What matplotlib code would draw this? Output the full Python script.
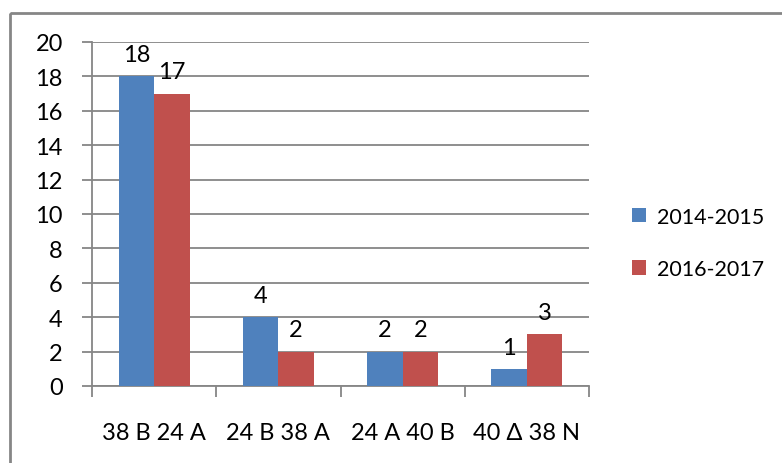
import numpy as np
import matplotlib.pyplot as plt
from matplotlib.patches import Rectangle

plt.rcParams['font.family'] = ['Lato', 'DejaVu Sans']

categories = ['38 Β 24 Α', '24 Β 38 Α', '24 Α 40 Β', '40 Δ 38 Ν']
series_names = ['2014-2015', '2016-2017']
values_1415 = [18, 4, 2, 1]
values_1617 = [17, 2, 2, 3]
colors = ['#4F81BD', '#C0504D']
grid_color = '#868686'
fs = 17

fig = plt.figure(figsize=(7.82, 4.64), dpi=100)

# chart frame
fig.patches.append(Rectangle((10 / 782, 1 - 14 / 464), 1.0, -1.0,
                             transform=fig.transFigure, fill=False,
                             edgecolor=grid_color, linewidth=2.0))

ax = fig.add_axes([92 / 782, 1 - 387 / 464, (589 - 92) / 782, (387 - 43) / 464])

x = np.arange(len(categories))
w = 0.286
for i, (vals, name) in enumerate(zip([values_1415, values_1617], series_names)):
    pos = x - w / 2 + i * w
    ax.bar(pos, vals, width=w, color=colors[i], label=name, zorder=3)
    for p, v in zip(pos, vals):
        ax.annotate(str(v), (p, v), xytext=(0, 8), textcoords='offset points',
                    ha='center', va='bottom', fontsize=fs)

ax.set_xlim(-0.5, len(categories) - 0.5)
ax.set_ylim(0, 20)
ax.set_yticks(range(0, 21, 2))
ax.set_xticks(np.arange(len(categories) + 1) - 0.5, minor=False)
ax.set_xticklabels([])
ax.set_xticks(x, minor=True)
ax.set_xticklabels(categories, minor=True)
ax.tick_params(axis='x', which='major', length=8, width=1.3, color=grid_color)
ax.tick_params(axis='x', which='minor', length=0, pad=26, labelsize=fs)
ax.tick_params(axis='y', length=7, width=1.3, color=grid_color, labelsize=fs, pad=14)

ax.yaxis.grid(True, color=grid_color, linewidth=1.3, zorder=0)
for s in ['top', 'right']:
    ax.spines[s].set_visible(False)
for s in ['left', 'bottom']:
    ax.spines[s].set_color(grid_color)
    ax.spines[s].set_linewidth(1.3)

fig.legend(loc='center left', bbox_to_anchor=(632 / 782, 1 - 244 / 464),
           frameon=False, fontsize=15.5, handlelength=0.65, handleheight=0.65,
           handletextpad=0.5, labelspacing=1.5, borderpad=0, borderaxespad=0)

fig.savefig('out.png', dpi=100)
